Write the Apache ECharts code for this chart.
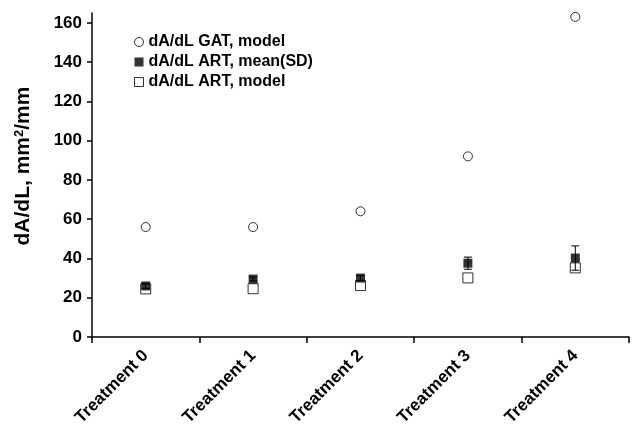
<!DOCTYPE html>
<html>
<head>
<meta charset="utf-8">
<script src="https://cdn.jsdelivr.net/npm/echarts@6/dist/echarts.min.js"></script>
<style>
  html, body { margin: 0; padding: 0; background: #fff; }
  #chart { width: 633px; height: 425px; }
</style>
</head>
<body>
<div id="chart"></div>
<script>
const categories = ["Treatment 0", "Treatment 1", "Treatment 2", "Treatment 3", "Treatment 4"];
const gatModel = [56, 56, 64, 92, 163];
const artMean = [26, 29.5, 30, 37.6, 40.2];
const artSD = [1.2, 1, 1.2, 3.1, 6.2];
const artModel = [24.5, 24.6, 26.2, 30.1, 35.2];
const yTicks = [0, 20, 40, 60, 80, 100, 120, 140, 160];

const FONT = "'Liberation Sans', Arial, sans-serif";

const errData = artMean.map((m, i) => [i, m - artSD[i], m + artSD[i]]);

const chart = echarts.init(document.getElementById("chart"));

chart.setOption({
  backgroundColor: "#fff",
  animation: false,
  textStyle: { fontFamily: FONT, color: "#000" },
  grid: { left: 92, right: 4, top: 13, bottom: 88, outerBoundsMode: "none", containLabel: false },
  legend: {
    orient: "vertical",
    left: 129,
    top: 29,
    itemGap: 4,
    itemWidth: 9,
    itemHeight: 9,
    textStyle: { fontFamily: FONT, fontSize: 16, fontWeight: "bold", color: "#000" },
    data: [
      { name: "dA/dL GAT, model", icon: "circle", itemStyle: { color: "#fff", borderColor: "#000", borderWidth: 1 } },
      { name: "dA/dL ART, mean(SD)", icon: "rect", itemStyle: { color: "#000", borderColor: "#000", borderWidth: 0 } },
      { name: "dA/dL ART, model", icon: "rect", itemStyle: { color: "#fff", borderColor: "#000", borderWidth: 1 } }
    ]
  },
  xAxis: {
    type: "category",
    data: categories,
    boundaryGap: true,
    axisLine: { lineStyle: { color: "#000", width: 1.5 } },
    axisTick: { show: true, length: 6, lineStyle: { color: "#000", width: 1.5 } },
    axisLabel: {
      rotate: 45,
      margin: 16,
      interval: 0,
      color: "#000",
      fontFamily: FONT,
      fontSize: 17,
      fontWeight: "bold"
    },
    splitLine: { show: false }
  },
  yAxis: {
    type: "value",
    min: 0,
    max: 165,
    interval: 20,
    name: "dA/dL, mm{sup|2}/mm",
    nameLocation: "middle",
    nameGap: 58,
    nameRotate: 90,
    nameTextStyle: {
      fontFamily: FONT,
      fontSize: 21,
      fontWeight: "bold",
      color: "#000",
      padding: [0, 0, 0, 18],
      rich: {
        sup: { fontFamily: FONT, fontSize: 13, fontWeight: "bold", color: "#000", verticalAlign: "top", lineHeight: 20 }
      }
    },
    axisLine: { show: true, lineStyle: { color: "#000", width: 1.5 } },
    axisTick: { show: true, length: 5, customValues: yTicks, lineStyle: { color: "#000", width: 1.5 } },
    axisLabel: {
      customValues: yTicks,
      margin: 10,
      color: "#000",
      fontFamily: FONT,
      fontSize: 17,
      fontWeight: "bold"
    },
    splitLine: { show: false }
  },
  series: [
    {
      name: "dA/dL GAT, model",
      type: "scatter",
      data: gatModel,
      symbol: "circle",
      symbolSize: 9,
      itemStyle: { color: "#fff", borderColor: "#000", borderWidth: 1 }
    },
    {
      name: "dA/dL ART, model",
      type: "scatter",
      data: artModel,
      symbol: "rect",
      symbolSize: 10,
      itemStyle: { color: "rgba(255,255,255,0)", borderColor: "#000", borderWidth: 1 },
      z: 2
    },
    {
      name: "dA/dL ART, mean(SD)",
      type: "scatter",
      data: artMean,
      symbol: "rect",
      symbolSize: 9,
      itemStyle: { color: "#000" },
      z: 3
    },
    {
      name: "SD",
      type: "custom",
      data: errData,
      z: 4,
      renderItem: function (params, api) {
        const x = api.value(0);
        const lo = api.coord([x, api.value(1)]);
        const hi = api.coord([x, api.value(2)]);
        const w = 4;
        const st = { stroke: "#000", lineWidth: 1 };
        return {
          type: "group",
          children: [
            { type: "line", shape: { x1: hi[0], y1: hi[1], x2: lo[0], y2: lo[1] }, style: st },
            { type: "line", shape: { x1: hi[0] - w, y1: hi[1], x2: hi[0] + w, y2: hi[1] }, style: st },
            { type: "line", shape: { x1: lo[0] - w, y1: lo[1], x2: lo[0] + w, y2: lo[1] }, style: st }
          ]
        };
      }
    }
  ]
});
</script>
</body>
</html>
